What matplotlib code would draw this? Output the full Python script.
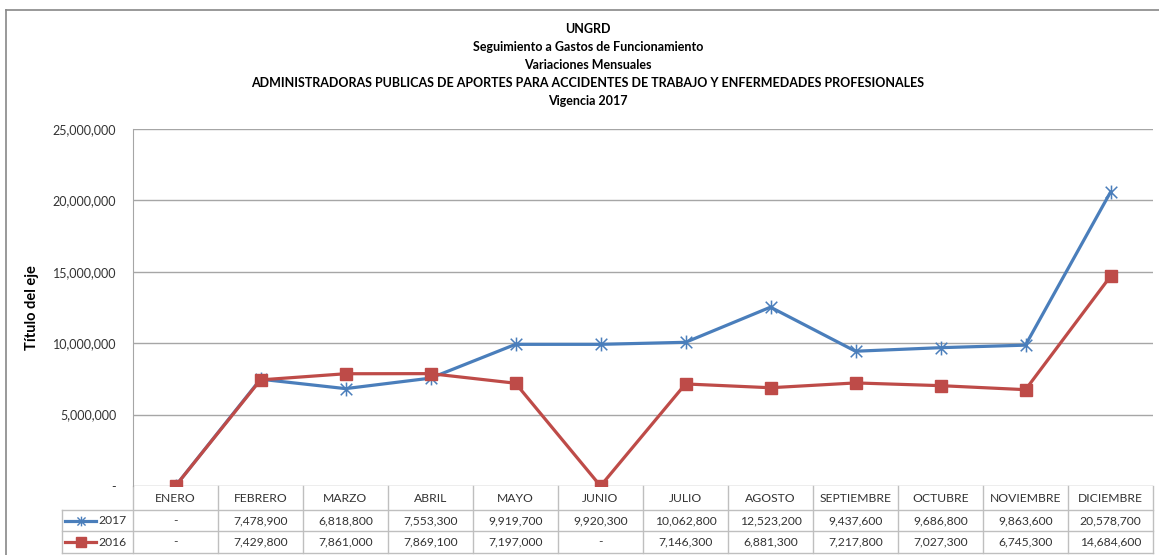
import matplotlib.pyplot as plt
from matplotlib.lines import Line2D
from matplotlib.path import Path
from matplotlib.ticker import FuncFormatter
import matplotlib.transforms as mtransforms

plt.rcParams['font.family'] = ['Lato', 'DejaVu Sans']

meses = ['ENERO', 'FEBRERO', 'MARZO', 'ABRIL', 'MAYO', 'JUNIO', 'JULIO',
         'AGOSTO', 'SEPTIEMBRE', 'OCTUBRE', 'NOVIEMBRE', 'DICIEMBRE']
v2017 = [0, 7478900, 6818800, 7553300, 9919700, 9920300, 10062800,
         12523200, 9437600, 9686800, 9863600, 20578700]
v2016 = [0, 7429800, 7861000, 7869100, 7197000, 0, 7146300,
         6881300, 7217800, 7027300, 6745300, 14684600]

titulo = ['UNGRD', 'Seguimiento a Gastos de Funcionamiento', 'Variaciones Mensuales',
          'ADMINISTRADORAS PUBLICAS DE APORTES PARA ACCIDENTES DE TRABAJO Y ENFERMEDADES PROFESIONALES',
          'Vigencia 2017']

azul = '#4A7EBB'
rojo = '#BE4B48'
gris = '#A6A6A6'
texto = '#333333'
W, H = 1159, 555

# marcador tipo Excel: X con linea vertical
estrella = Path([(-1, -1), (1, 1), (-1, 1), (1, -1), (0, -1.2), (0, 1.2)],
                [Path.MOVETO, Path.LINETO] * 3)


def fmt(v):
    return '-' if v == 0 else f'{v:,.0f}'


fig = plt.figure(figsize=(W / 100, H / 100), dpi=100)
ax = fig.add_axes([133 / W, 1 - 486 / H, (1153 - 133) / W, (486 - 129) / H])

x = range(len(meses))
ax.plot(x, v2017, color=azul, lw=2.3, marker=estrella, ms=10, mew=1.1, zorder=3)
ax.plot(x, v2016, color=rojo, lw=2.3, marker='s', ms=8.5, zorder=4)

ax.set_xlim(-0.5, 11.5)
ax.set_ylim(0, 25000000)
ax.set_yticks(range(0, 25000001, 5000000))
ax.yaxis.set_major_formatter(FuncFormatter(lambda v, p: fmt(v)))
ax.tick_params(axis='y', length=0, pad=12, labelsize=9, colors=texto)
ax.set_xticks([])
ax.grid(axis='y', color=gris, lw=1)
ax.set_axisbelow(True)
for s in ['top', 'right', 'bottom']:
    ax.spines[s].set_visible(False)
ax.spines['left'].set_color(gris)
ax.set_ylabel('Título del eje', fontsize=10.5, fontweight='bold', labelpad=10)

# titulo
for i, t in enumerate(titulo):
    fig.text(588 / W, 1 - (29 + 18 * i) / H, t, ha='center', va='center',
             fontsize=9, fontweight='bold')

# marco exterior
fig.add_artist(Line2D([6 / W, 1], [1 - 10 / H] * 2, color='#888888', lw=1.2))
fig.add_artist(Line2D([6 / W] * 2, [0, 1 - 10 / H], color='#888888', lw=1.2))

# tabla de datos
tr = mtransforms.blended_transform_factory(ax.transData, fig.transFigure)
fy = lambda py: 1 - py / H
fx = lambda px: px / W
for yy in [510, 531, 553]:
    fig.add_artist(Line2D([fx(62), fx(1153)], [fy(yy)] * 2, color='#BFBFBF', lw=1))
fig.add_artist(Line2D([fx(62)] * 2, [fy(510), fy(553)], color='#BFBFBF', lw=1))
for i in range(len(meses) + 1):
    ax.add_artist(Line2D([i - 0.5] * 2, [fy(486), fy(553)], color='#BFBFBF', lw=1,
                         transform=tr, clip_on=False))
for i, m in enumerate(meses):
    ax.text(i, fy(498), m, transform=tr, ha='center', va='center', fontsize=8.7, color=texto)
    ax.text(i, fy(520.5), fmt(v2017[i]), transform=tr, ha='center', va='center',
            fontsize=8.7, color=texto)
    ax.text(i, fy(542), fmt(v2016[i]), transform=tr, ha='center', va='center',
            fontsize=8.7, color=texto)

fig.add_artist(Line2D([fx(65), fx(96)], [fy(520.5)] * 2, color=azul, lw=2.3))
fig.add_artist(Line2D([fx(80.5)], [fy(520.5)], color=azul, marker=estrella, ms=7, mew=1))
fig.text(fx(98), fy(520.5), '2017', ha='left', va='center', fontsize=8.7, color=texto)
fig.add_artist(Line2D([fx(65), fx(96)], [fy(542)] * 2, color=rojo, lw=2.3))
fig.add_artist(Line2D([fx(80.5)], [fy(542)], color=rojo, marker='s', ms=6.5))
fig.text(fx(98), fy(542), '2016', ha='left', va='center', fontsize=8.7, color=texto)

fig.savefig('out.png', dpi=100)
